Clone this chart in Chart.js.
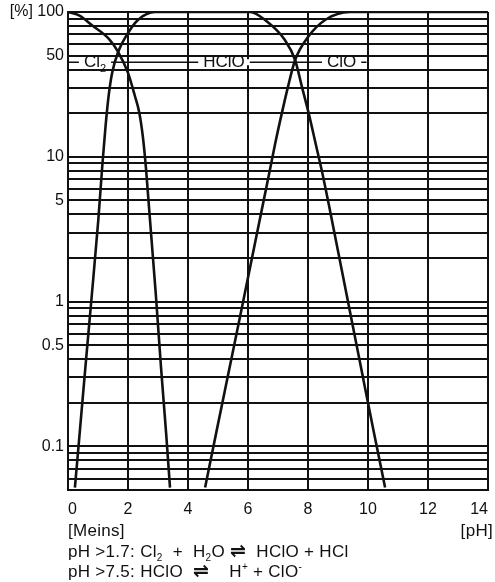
<!DOCTYPE html>
<html>
<head>
<meta charset="utf-8">
<script src="https://cdn.jsdelivr.net/npm/chart.js@4.4.1/dist/chart.umd.min.js"></script>
<style>
  body { margin: 0; background: #fff; }
  #wrap { position: relative; width: 495px; height: 582px; font-family: "Liberation Sans", Arial, sans-serif; color: #111; }
  #wrap canvas { position: absolute; left: 0; top: 0; }
  .note { position: absolute; font-size: 17px; line-height: 19px; white-space: pre; letter-spacing: 0.3px; }
  .note sub, .note sup { font-size: 10px; line-height: 0; }
  .arrow { font-family: "DejaVu Sans", sans-serif; font-size: 19px; font-weight: bold; line-height: 0; }
</style>
</head>
<body>
<div id="wrap">
  <canvas id="phChart" width="495" height="582"></canvas>
  <div class="note" style="left:68px; top:521px">[Meins]</div>
  <div class="note" style="right:2px; top:521px">[pH]</div>
  <div class="note" style="left:68px; top:542px">pH &gt;1.7: Cl<sub>2</sub>  +  H<sub>2</sub>O <span class="arrow">⇌</span>  HClO + HCl</div>
  <div class="note" style="left:68px; top:562px">pH &gt;7.5: HClO  <span class="arrow">⇌</span>    H<sup>+</sup> + ClO<sup>-</sup></div>
</div>
<script>
// share of free chlorine species vs pH (log %)
const cl2Ph  = [0, 0.4, 0.8, 1.37, 1.67, 2.0, 2.23, 2.38, 2.5, 2.6, 2.94, 3.1, 3.27, 3.4];
const cl2Pct = [100, 94, 81, 65, 53, 38, 26.3, 20, 13.5, 8.3, 1.03, 0.353, 0.124, 0.052];

const hcloPh  = [0.23, 0.39, 0.58, 0.78, 1.01, 1.15, 1.25, 1.35, 1.47, 1.67, 2.0, 2.33, 2.9,
                 6.07, 6.57, 7.23, 7.57, 7.8, 8.02, 8.25, 8.47, 8.73, 9.29, 9.83, 10.2, 10.57];
const hcloPct = [0.052, 0.124, 0.353, 1.03, 3.66, 9.06, 16.1, 25.9, 37.9, 53, 71.6, 88.1, 100,
                 100, 88.1, 64.1, 46.6, 30.3, 20.1, 12.45, 7.85, 4.29, 1.11, 0.301, 0.124, 0.052];

const cloPh  = [4.57, 4.94, 5.39, 5.85, 6.39, 6.75, 6.91, 7.13, 7.33, 7.57, 8.0, 8.57, 9.4, 14];
const cloPct = [0.052, 0.124, 0.353, 1.03, 3.66, 8.5, 12.45, 20.1, 30.3, 46.6, 67.2, 88.1, 100, 100];

// species labels sitting on one leader line
const speciesNames = ['Cl', 'HClO', 'ClO'];
const speciesSubs  = ['2', '', ''];
const speciesPh    = [0.9, 5.2, 9.12];
const leaderPh     = [0, 9.95];
const leaderPct    = 45;

const yLabels = [100, 50, 10, 5, 1, 0.5, 0.1];
const xMin = 0, xMax = 14, yMin = 0.05, yMax = 100;

const FONT = '"Liberation Sans", Arial, sans-serif';
const INK = '#111';

function toPoints(xs, ys) {
    return xs.map((v, i) => ({ x: v, y: ys[i] }));
}

// log gridlines: 1..9 per decade
function logGrid(min, max) {
    const out = [];
    for (let e = Math.floor(Math.log10(min)); e <= Math.ceil(Math.log10(max)); e++) {
        for (let m = 1; m <= 9; m++) {
            const v = +(m * Math.pow(10, e)).toPrecision(3);
            if (v >= min - 1e-9 && v <= max + 1e-9) out.push(v);
        }
    }
    return out;
}

const curveLabelPlugin = {
    id: 'curveLabels',
    afterDatasetsDraw(chart) {
        const { ctx, scales: { x, y } } = chart;
        const py = y.getPixelForValue(leaderPct);
        ctx.save();
        ctx.textBaseline = 'middle';
        ctx.textAlign = 'left';
        speciesNames.forEach((name, i) => {
            ctx.font = '17px ' + FONT;
            const w1 = ctx.measureText(name).width;
            ctx.font = '11px ' + FONT;
            const w2 = speciesSubs[i] ? ctx.measureText(speciesSubs[i]).width : 0;
            const left = x.getPixelForValue(speciesPh[i]) - (w1 + w2) / 2;
            ctx.fillStyle = '#fff';
            ctx.fillRect(left - 5, py - 3, w1 + w2 + 10, 6);
            ctx.fillStyle = INK;
            ctx.font = '17px ' + FONT;
            ctx.fillText(name, left, py);
            if (speciesSubs[i]) {
                ctx.font = '11px ' + FONT;
                ctx.fillText(speciesSubs[i], left + w1, py + 7);
            }
        });
        ctx.restore();
    }
};

const curveStyle = {
    borderColor: INK,
    borderWidth: 2.6,
    pointRadius: 0,
    fill: false,
    cubicInterpolationMode: 'monotone'
};

new Chart(document.getElementById('phChart'), {
    type: 'line',
    data: {
        datasets: [
            { label: 'Cl2', data: toPoints(cl2Ph, cl2Pct), ...curveStyle },
            { label: 'HClO', data: toPoints(hcloPh, hcloPct), ...curveStyle },
            { label: 'ClO-', data: toPoints(cloPh, cloPct), ...curveStyle },
            {
                label: 'leader',
                data: toPoints(leaderPh, [leaderPct, leaderPct]),
                borderColor: INK, borderWidth: 1.5, pointRadius: 0, fill: false
            }
        ]
    },
    options: {
        responsive: false,
        devicePixelRatio: 1,
        animation: false,
        layout: { padding: { top: 12, right: 7, bottom: 0, left: 0 } },
        plugins: {
            legend: { display: false },
            tooltip: { enabled: false }
        },
        scales: {
            x: {
                type: 'linear',
                min: xMin,
                max: xMax,
                border: { color: INK, width: 2 },
                grid: { color: INK, lineWidth: 2, drawTicks: false },
                ticks: {
                    stepSize: 2,
                    padding: 10,
                    align: 'inner',
                    color: INK,
                    font: { family: FONT, size: 16 }
                },
                afterFit(scale) {
                    scale.height = 92;
                    scale.paddingLeft = 0;
                    scale.paddingRight = 0;
                }
            },
            y: {
                type: 'logarithmic',
                min: yMin,
                max: yMax,
                border: { color: INK, width: 2 },
                grid: { color: INK, lineWidth: 2, drawTicks: false },
                afterBuildTicks(scale) {
                    scale.ticks = logGrid(yMin, yMax).map(v => ({ value: v }));
                },
                ticks: {
                    padding: 4,
                    color: INK,
                    autoSkip: false,
                    font: { family: FONT, size: 16 },
                    callback(value) {
                        const v = +(+value).toPrecision(3);
                        if (!yLabels.includes(v)) return '';
                        return v === 100 ? '[%] 100' : String(v);
                    }
                },
                afterFit(scale) {
                    scale.width = 68;
                    scale.paddingTop = 0;
                    scale.paddingBottom = 0;
                }
            }
        }
    },
    plugins: [curveLabelPlugin]
});
</script>
</body>
</html>
